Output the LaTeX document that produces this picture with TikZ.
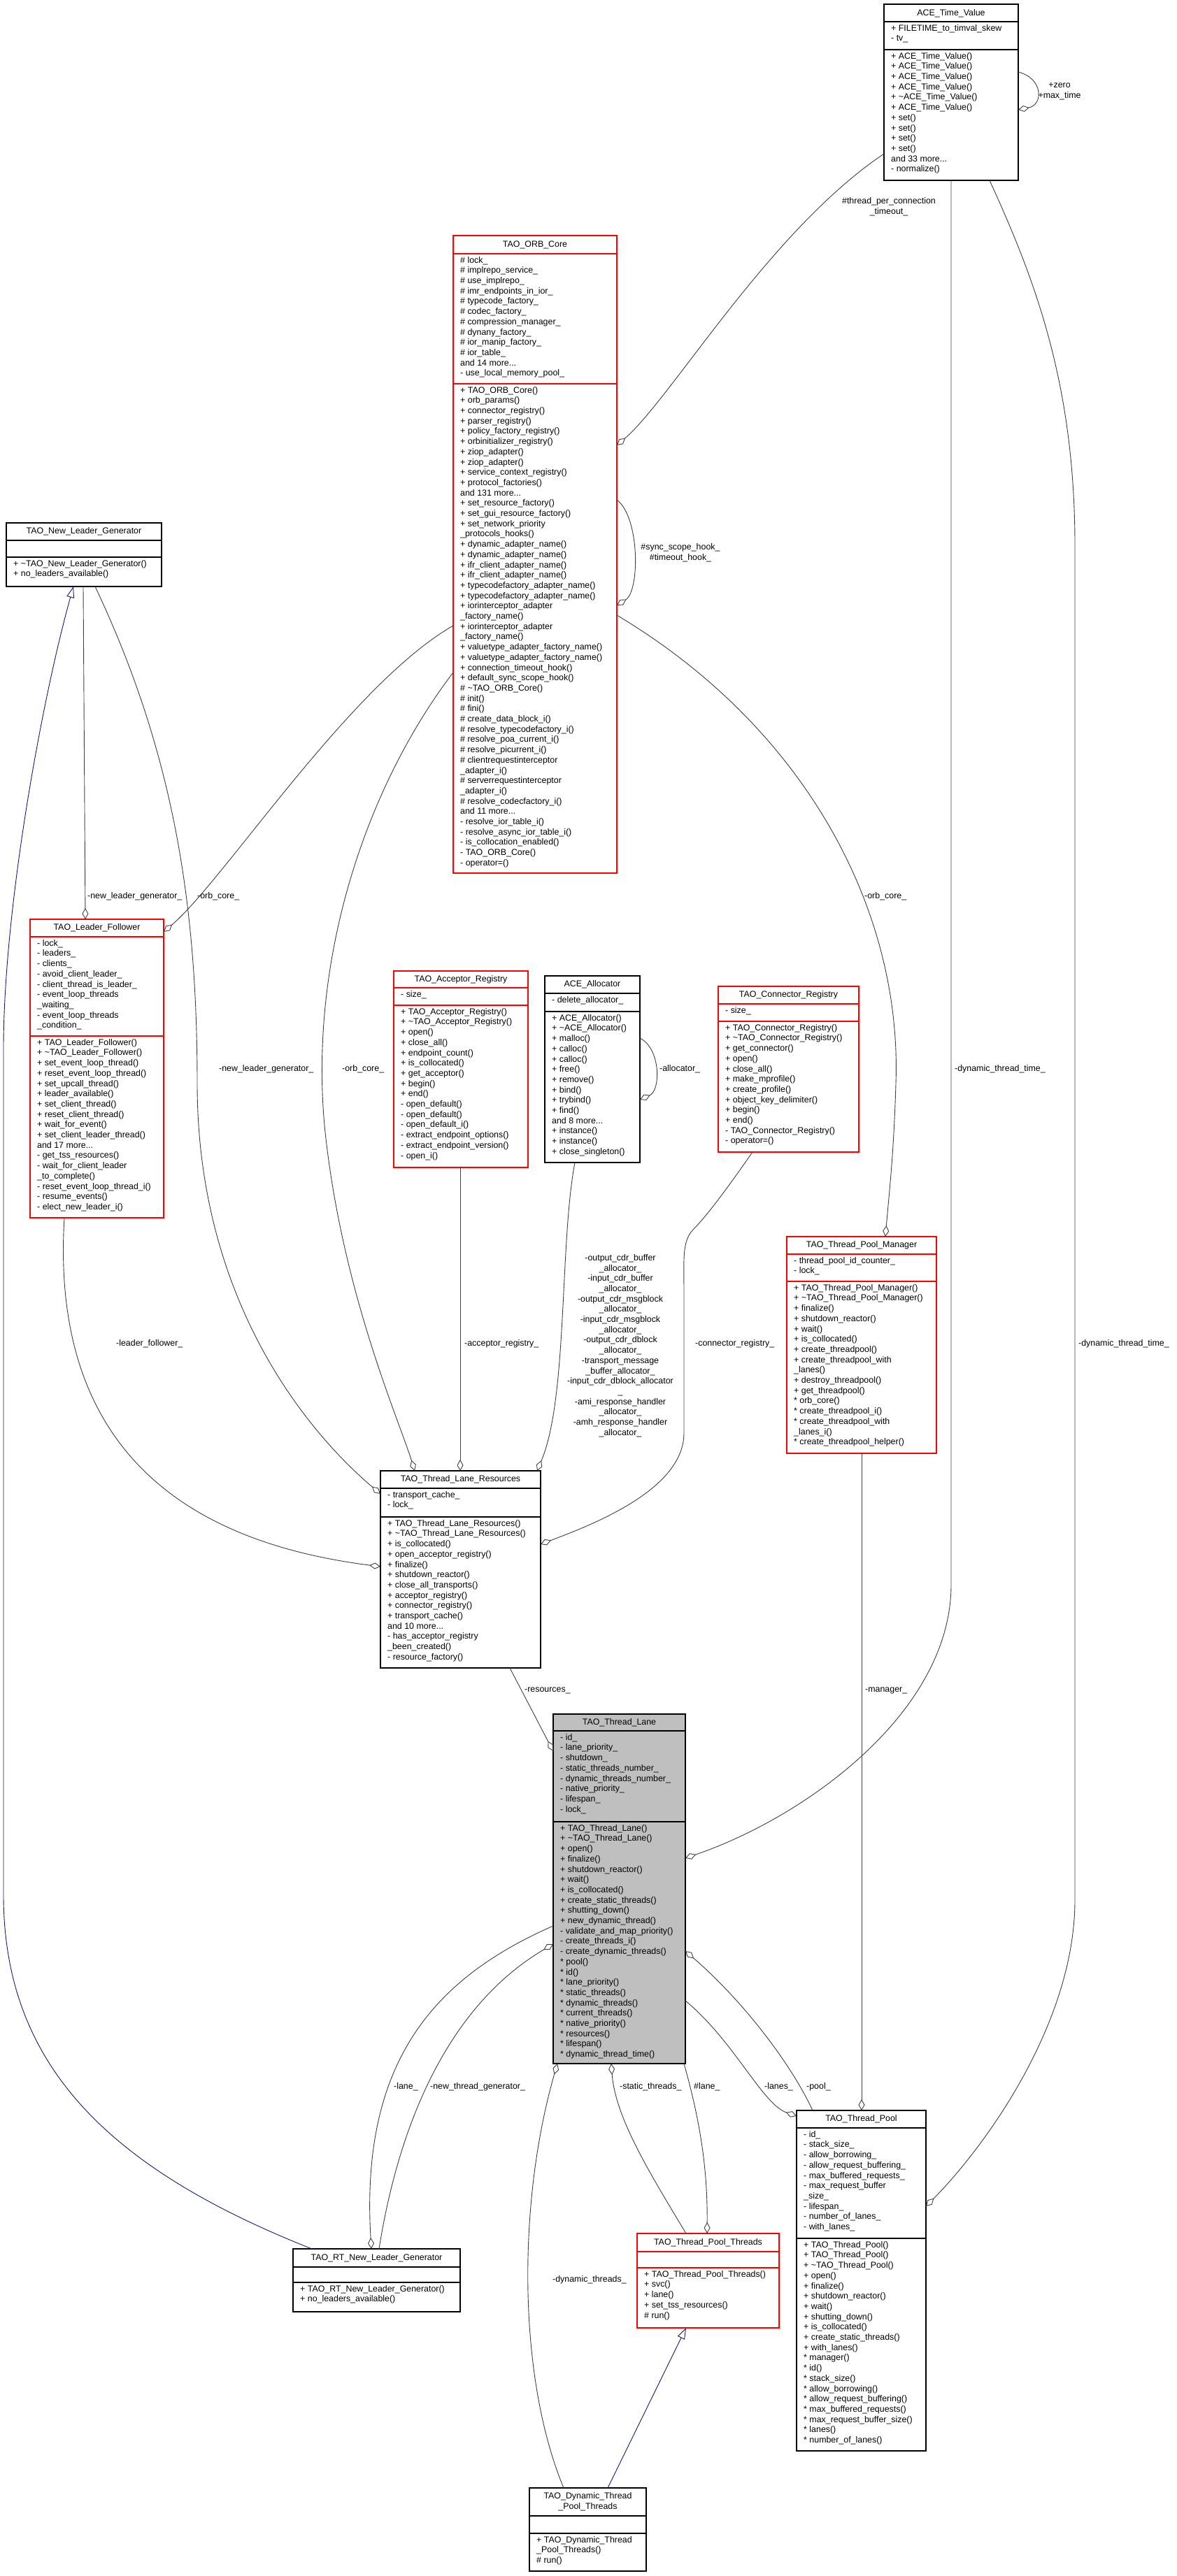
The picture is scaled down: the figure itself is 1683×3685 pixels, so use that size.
\documentclass[tikz,border=0pt]{standalone}
\usepackage{fontspec}
\setmainfont{Liberation Sans}
\usetikzlibrary{arrows.meta,calc}
\AtBeginDocument{\catcode`\_=12 }
\definecolor{ln}{HTML}{404040}
\definecolor{inh}{HTML}{191970}
\definecolor{rd}{HTML}{FF0000}
\definecolor{gr}{HTML}{BFBFBF}
\tikzset{
 txt/.style={font=\fontsize{12.4}{14.7}\selectfont,inner sep=0pt},
 assoc/.style={draw=ln,line width=0.9pt,-{Diamond[open,length=16pt,width=9pt]}},
 inher/.style={draw=inh,line width=0.9pt,-{Triangle[open,length=16pt,width=11pt]}},
 lbl/.style={txt,anchor=west},
}
\newcommand\cls[9]{%
 \node[draw=#8,fill=#9,line width=1.1pt,inner sep=0pt,outer sep=0pt,anchor=north west,minimum width={#4-#2},minimum height={#5-#3}] (#1) at (#2,-#3) {};
 \draw[draw=#8,line width=1.1pt] (#1.west |- 0,-#6) -- (#1.east |- 0,-#6) (#1.west |- 0,-#7) -- (#1.east |- 0,-#7);}
\newcommand\ttl[3]{\node[txt,align=center] at (#1.north |- 0,-#2) {#3};}
\newcommand\sect[3]{\node[txt,anchor=north west,align=left] at (#1,-#2) {#3};}
\begin{document}
\begin{tikzpicture}[x=1pt,y=1pt]
\useasboundingbox[fill=white] (0,0) rectangle (1683,-3685);

% ACE_Time_Value
\cls{tv}{1264}{6}{1456}{258}{31}{71}{black}{white}
\ttl{tv}{19}{ACE_Time_Value}
\sect{1274}{35}{+ FILETIME_to_timval_skew\\- tv_}
\sect{1274}{75}{+ ACE_Time_Value()\\+ ACE_Time_Value()\\+ ACE_Time_Value()\\+ ACE_Time_Value()\\+ \textasciitilde ACE_Time_Value()\\+ ACE_Time_Value()\\+ set()\\+ set()\\+ set()\\+ set()\\and 33 more...\\- normalize()}

% TAO_ORB_Core
\cls{orb}{648}{337}{882}{1249}{363}{549}{rd}{white}
\ttl{orb}{350}{TAO_ORB_Core}
\sect{658}{367}{\# lock_\\\# implrepo_service_\\\# use_implrepo_\\\# imr_endpoints_in_ior_\\\# typecode_factory_\\\# codec_factory_\\\# compression_manager_\\\# dynany_factory_\\\# ior_manip_factory_\\\# ior_table_\\and 14 more...\\- use_local_memory_pool_}
\sect{658}{553}{+ TAO_ORB_Core()\\+ orb_params()\\+ connector_registry()\\+ parser_registry()\\+ policy_factory_registry()\\+ orbinitializer_registry()\\+ ziop_adapter()\\+ ziop_adapter()\\+ service_context_registry()\\+ protocol_factories()\\and 131 more...\\+ set_resource_factory()\\+ set_gui_resource_factory()\\+ set_network_priority\\_protocols_hooks()\\+ dynamic_adapter_name()\\+ dynamic_adapter_name()\\+ ifr_client_adapter_name()\\+ ifr_client_adapter_name()\\+ typecodefactory_adapter_name()\\+ typecodefactory_adapter_name()\\+ iorinterceptor_adapter\\_factory_name()\\+ iorinterceptor_adapter\\_factory_name()\\+ valuetype_adapter_factory_name()\\+ valuetype_adapter_factory_name()\\+ connection_timeout_hook()\\+ default_sync_scope_hook()\\\# \textasciitilde TAO_ORB_Core()\\\# init()\\\# fini()\\\# create_data_block_i()\\\# resolve_typecodefactory_i()\\\# resolve_poa_current_i()\\\# resolve_picurrent_i()\\\# clientrequestinterceptor\\_adapter_i()\\\# serverrequestinterceptor\\_adapter_i()\\\# resolve_codecfactory_i()\\and 11 more...\\- resolve_ior_table_i()\\- resolve_async_ior_table_i()\\- is_collocation_enabled()\\- TAO_ORB_Core()\\- operator=()}

% TAO_New_Leader_Generator
\cls{nlg}{9}{748}{231}{839}{773}{797}{black}{white}
\ttl{nlg}{760}{TAO_New_Leader_Generator}
\sect{19}{801}{+ \textasciitilde TAO_New_Leader_Generator()\\+ no_leaders_available()}

% TAO_Leader_Follower
\cls{lf}{43}{1315}{234}{1742}{1340}{1482}{rd}{white}
\ttl{lf}{1327}{TAO_Leader_Follower}
\sect{53}{1344}{- lock_\\- leaders_\\- clients_\\- avoid_client_leader_\\- client_thread_is_leader_\\- event_loop_threads\\_waiting_\\- event_loop_threads\\_condition_}
\sect{53}{1486}{+ TAO_Leader_Follower()\\+ \textasciitilde TAO_Leader_Follower()\\+ set_event_loop_thread()\\+ reset_event_loop_thread()\\+ set_upcall_thread()\\+ leader_available()\\+ set_client_thread()\\+ reset_client_thread()\\+ wait_for_event()\\+ set_client_leader_thread()\\and 17 more...\\- get_tss_resources()\\- wait_for_client_leader\\_to_complete()\\- reset_event_loop_thread_i()\\- resume_events()\\- elect_new_leader_i()}

% TAO_Acceptor_Registry
\cls{acc}{563}{1389}{755}{1670}{1413}{1438}{rd}{white}
\ttl{acc}{1401}{TAO_Acceptor_Registry}
\sect{573}{1417}{- size_}
\sect{573}{1442}{+ TAO_Acceptor_Registry()\\+ \textasciitilde TAO_Acceptor_Registry()\\+ open()\\+ close_all()\\+ endpoint_count()\\+ is_collocated()\\+ get_acceptor()\\+ begin()\\+ end()\\- open_default()\\- open_default()\\- open_default_i()\\- extract_endpoint_options()\\- extract_endpoint_version()\\- open_i()}

% ACE_Allocator
\cls{alc}{779}{1396}{915}{1663}{1421}{1447}{black}{white}
\ttl{alc}{1408}{ACE_Allocator}
\sect{789}{1425}{- delete_allocator_}
\sect{789}{1451}{+ ACE_Allocator()\\+ \textasciitilde ACE_Allocator()\\+ malloc()\\+ calloc()\\+ calloc()\\+ free()\\+ remove()\\+ bind()\\+ trybind()\\+ find()\\and 8 more...\\+ instance()\\+ instance()\\+ close_singleton()}

% TAO_Connector_Registry
\cls{con}{1027}{1411}{1228}{1648}{1436}{1461}{rd}{white}
\ttl{con}{1423}{TAO_Connector_Registry}
\sect{1037}{1440}{- size_}
\sect{1037}{1465}{+ TAO_Connector_Registry()\\+ \textasciitilde TAO_Connector_Registry()\\+ get_connector()\\+ open()\\+ close_all()\\+ make_mprofile()\\+ create_profile()\\+ object_key_delimiter()\\+ begin()\\+ end()\\- TAO_Connector_Registry()\\- operator=()}

% TAO_Thread_Pool_Manager
\cls{tpm}{1125}{1769}{1339}{2079}{1794}{1833}{rd}{white}
\ttl{tpm}{1781}{TAO_Thread_Pool_Manager}
\sect{1135}{1798}{- thread_pool_id_counter_\\- lock_}
\sect{1135}{1837}{+ TAO_Thread_Pool_Manager()\\+ \textasciitilde TAO_Thread_Pool_Manager()\\+ finalize()\\+ shutdown_reactor()\\+ wait()\\+ is_collocated()\\+ create_threadpool()\\+ create_threadpool_with\\_lanes()\\+ destroy_threadpool()\\+ get_threadpool()\\* orb_core()\\* create_threadpool_i()\\* create_threadpool_with\\_lanes_i()\\* create_threadpool_helper()}

% TAO_Thread_Lane_Resources
\cls{tlr}{544}{2104}{773}{2386}{2129}{2170}{black}{white}
\ttl{tlr}{2116}{TAO_Thread_Lane_Resources}
\sect{554}{2133}{- transport_cache_\\- lock_}
\sect{554}{2174}{+ TAO_Thread_Lane_Resources()\\+ \textasciitilde TAO_Thread_Lane_Resources()\\+ is_collocated()\\+ open_acceptor_registry()\\+ finalize()\\+ shutdown_reactor()\\+ close_all_transports()\\+ acceptor_registry()\\+ connector_registry()\\+ transport_cache()\\and 10 more...\\- has_acceptor_registry\\_been_created()\\- resource_factory()}

% TAO_Thread_Lane
\cls{tl}{791}{2452}{980}{2952}{2476}{2606}{black}{gr}
\ttl{tl}{2464}{TAO_Thread_Lane}
\sect{801}{2480}{- id_\\- lane_priority_\\- shutdown_\\- static_threads_number_\\- dynamic_threads_number_\\- native_priority_\\- lifespan_\\- lock_}
\sect{801}{2610}{+ TAO_Thread_Lane()\\+ \textasciitilde TAO_Thread_Lane()\\+ open()\\+ finalize()\\+ shutdown_reactor()\\+ wait()\\+ is_collocated()\\+ create_static_threads()\\+ shutting_down()\\+ new_dynamic_thread()\\- validate_and_map_priority()\\- create_threads_i()\\- create_dynamic_threads()\\* pool()\\* id()\\* lane_priority()\\* static_threads()\\* dynamic_threads()\\* current_threads()\\* native_priority()\\* resources()\\* lifespan()\\* dynamic_thread_time()}

% TAO_Thread_Pool
\cls{tp}{1139}{3019}{1324}{3506}{3044}{3202}{black}{white}
\ttl{tp}{3031}{TAO_Thread_Pool}
\sect{1149}{3048}{- id_\\- stack_size_\\- allow_borrowing_\\- allow_request_buffering_\\- max_buffered_requests_\\- max_request_buffer\\_size_\\- lifespan_\\- number_of_lanes_\\- with_lanes_}
\sect{1149}{3206}{+ TAO_Thread_Pool()\\+ TAO_Thread_Pool()\\+ \textasciitilde TAO_Thread_Pool()\\+ open()\\+ finalize()\\+ shutdown_reactor()\\+ wait()\\+ shutting_down()\\+ is_collocated()\\+ create_static_threads()\\+ with_lanes()\\* manager()\\* id()\\* stack_size()\\* allow_borrowing()\\* allow_request_buffering()\\* max_buffered_requests()\\* max_request_buffer_size()\\* lanes()\\* number_of_lanes()}

% TAO_Thread_Pool_Threads
\cls{tpt}{911}{3195}{1114}{3330}{3221}{3244}{rd}{white}
\ttl{tpt}{3208}{TAO_Thread_Pool_Threads}
\sect{921}{3248}{+ TAO_Thread_Pool_Threads()\\+ svc()\\+ lane()\\+ set_tss_resources()\\\# run()}

% TAO_RT_New_Leader_Generator
\cls{rt}{419}{3217}{658}{3307}{3243}{3265}{black}{white}
\ttl{rt}{3230}{TAO_RT_New_Leader_Generator}
\sect{429}{3269}{+ TAO_RT_New_Leader_Generator()\\+ no_leaders_available()}

% TAO_Dynamic_Thread_Pool_Threads
\cls{dyn}{757}{3559}{924}{3678}{3599}{3624}{black}{white}
\ttl{dyn}{3579}{TAO_Dynamic_Thread\\_Pool_Threads}
\sect{767}{3628}{+ TAO_Dynamic_Thread\\_Pool_Threads()\\\# run()}

% ---------- connectors ----------
\draw[assoc] (tv.west |- 0,-220) .. controls (1100,-330) and (960,-570) .. (orb.east |- 0,-637);
\node[txt,align=center] at (1271,-296) {\#thread_per_connection\\_timeout_};

\draw[assoc] (tv.east |- 0,-103) .. controls (1492,-112) and (1492,-150) .. (tv.east |- 0,-157);
\node[txt,align=center] at (1515,-131) {+zero\\+max_time};

\draw[assoc] (orb.east |- 0,-715) .. controls (915,-740) and (915,-845) .. (orb.east |- 0,-866);
\node[txt,align=center] at (973,-791) {\#sync_scope_hook_\\\#timeout_hook_};

\coordinate (dt1a) at (1360,-2267);
\draw[assoc] (tv.south -| 1360,0) -- (dt1a) .. controls (1360,-2450) and (1150,-2600) .. (tl.east |- 0,-2658);
\node[lbl] at (1365,-1529) {-dynamic_thread_time_};

\coordinate (dt2a) at (1537,-780);
\coordinate (dt2b) at (1537,-2718);
\draw[assoc] (tv.south -| 1415,0) .. controls (1480,-400) and (1537,-550) .. (dt2a) -- (dt2b) .. controls (1537,-2900) and (1400,-3080) .. (tp.east |- 0,-3156);
\node[lbl] at (1542,-1922) {-dynamic_thread_time_};

\draw[assoc] (orb.east |- 0,-880) .. controls (1150,-1040) and (1290,-1300) .. (1281,-1550) .. controls (1278,-1650) and (1272,-1700) .. (tpm.north -| 1266,0);
\node[lbl] at (1236,-1282) {-orb_core_};

\draw[assoc] (nlg.south -| 119,0) -- (lf.north -| 122,0);
\node[lbl] at (125,-1282) {-new_leader_generator_};

\draw[assoc] (orb.west |- 0,-895) .. controls (500,-980) and (320,-1260) .. (lf.east |- 0,-1333);
\node[lbl] at (282,-1282) {-orb_core_};

\draw[assoc] (nlg.south -| 136,0) .. controls (250,-1080) and (282,-1300) .. (282,-1550) .. controls (282,-1850) and (430,-2040) .. (tlr.west |- 0,-2137);
\node[lbl] at (313,-1529) {-new_leader_generator_};

\draw[assoc] (orb.west |- 0,-962) .. controls (520,-1130) and (440,-1380) .. (465,-1620) .. controls (490,-1850) and (570,-2030) .. (tlr.north -| 593,0);
\node[lbl] at (489,-1529) {-orb_core_};

\draw[assoc] (lf.south -| 92,0) .. controls (70,-2100) and (300,-2210) .. (tlr.west |- 0,-2241);
\node[lbl] at (166,-1922) {-leader_follower_};

\draw[assoc] (acc.south -| 658,0) -- (tlr.north -| 658,0);
\node[lbl] at (664,-1922) {-acceptor_registry_};

\draw[assoc] (alc.south -| 822,0) .. controls (800,-1780) and (812,-2000) .. (tlr.north -| 768,0);
\node[txt,align=center] at (887,-1925) {-output_cdr_buffer\\_allocator_\\-input_cdr_buffer\\_allocator_\\-output_cdr_msgblock\\_allocator_\\-input_cdr_msgblock\\_allocator_\\-output_cdr_dblock\\_allocator_\\-transport_message\\_buffer_allocator_\\-input_cdr_dblock_allocator\\_\\-ami_response_handler\\_allocator_\\-amh_response_handler\\_allocator_};

\draw[assoc] (alc.east |- 0,-1485) .. controls (945,-1500) and (945,-1560) .. (alc.east |- 0,-1573);
\node[lbl] at (943,-1529) {-allocator_};

\draw[assoc] (con.south -| 1076,0) .. controls (1040,-1700) and (1010,-1740) .. (992,-1758) .. controls (975,-1775) and (978,-1800) .. (978,-1850) -- (978,-2050) .. controls (978,-2130) and (850,-2180) .. (tlr.east |- 0,-2209);
\node[lbl] at (994,-1922) {-connector_registry_};

\draw[assoc] (tpm.south -| 1232,0) -- (tp.north -| 1232,0);
\node[lbl] at (1237,-2418) {-manager_};

\draw[assoc] (tlr.south -| 729,0) -- (tl.west |- 0,-2505);
\node[lbl] at (750,-2418) {-resources_};

\draw[assoc] (tl.west |- 0,-2755) .. controls (620,-2830) and (515,-2950) .. (rt.north -| 531,0);
\node[lbl] at (563,-2985) {-lane_};

\draw[assoc] (rt.north -| 542,0) .. controls (570,-3040) and (640,-2870) .. (tl.west |- 0,-2781);
\node[lbl] at (615,-2985) {-new_thread_generator_};

\draw[assoc] (dyn.north -| 806,0) .. controls (740,-3400) and (740,-3150) .. (tl.south -| 797,0);
\node[lbl] at (790,-3261) {-dynamic_threads_};

\draw[assoc] (tpt.north -| 981,0) .. controls (930,-3110) and (880,-3030) .. (tl.south -| 874,0);
\node[lbl] at (886,-2985) {-static_threads_};

\draw[assoc] (tl.south -| 978,0) .. controls (1000,-3030) and (1012,-3100) .. (tpt.north -| 1011,0);
\node[lbl] at (992,-2985) {\#lane_};

\draw[assoc] (tl.east |- 0,-2862) .. controls (1050,-2920) and (1090,-3010) .. (tp.west |- 0,-3027);
\node[lbl] at (1093,-2985) {-lanes_};

\draw[assoc] (tp.north -| 1162,0) .. controls (1130,-2950) and (1060,-2860) .. (tl.east |- 0,-2791);
\node[lbl] at (1153,-2985) {-pool_};

\draw[inher] (rt.north -| 446,0) .. controls (150,-3100) and (5,-2950) .. (5,-2710) -- (5,-1500) .. controls (5,-1300) and (60,-1000) .. (nlg.south -| 105,0);
\draw[inher] (dyn.north -| 869,0) -- (tpt.south -| 981,0);
\end{tikzpicture}
\end{document}
